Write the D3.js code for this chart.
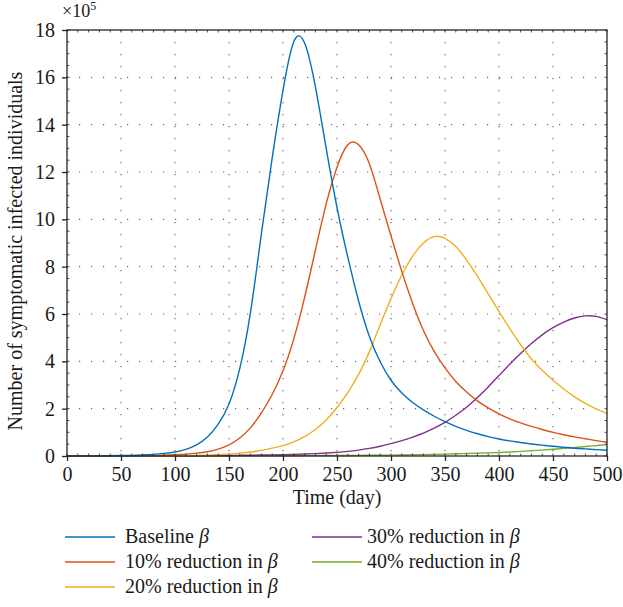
<!DOCTYPE html>
<html>
<head>
<meta charset="utf-8">
<script src="https://cdn.jsdelivr.net/npm/d3@7"></script>
<style>
  html, body { margin: 0; padding: 0; background: #fff; }
  svg text { font-family: "Liberation Serif", "DejaVu Serif", serif; fill: #1a1a1a; }
</style>
</head>
<body>
<svg id="chart" width="623" height="607"></svg>
<script>
// ---- data (values in units of 1e5) ----
const days = d3.range(0, 501, 10);
const seriesNames = ["Baseline", "10% reduction in", "20% reduction in", "30% reduction in", "40% reduction in"];
const baseline = [0,0.002,0.005,0.008,0.012,0.018,0.028,0.045,0.07,0.11,0.17,0.28,0.47,0.8,1.35,2.2,3.7,6.1,9.4,12.6,15.45,17.5,17.45,15.6,13.0,10.5,8.4,6.55,5.05,3.98,3.2,2.66,2.26,1.95,1.68,1.45,1.25,1.08,0.94,0.82,0.72,0.64,0.57,0.51,0.46,0.41,0.37,0.33,0.3,0.27,0.245];
const red10 = [0,0,0.001,0.003,0.005,0.008,0.012,0.018,0.026,0.038,0.055,0.08,0.12,0.18,0.29,0.47,0.76,1.2,1.82,2.6,3.6,4.95,6.7,8.7,10.65,12.2,13.15,13.15,12.35,10.85,9.3,7.8,6.45,5.3,4.42,3.72,3.15,2.7,2.33,2.03,1.78,1.57,1.4,1.25,1.12,1.0,0.9,0.81,0.73,0.65,0.58];
const red20 = [0,0,0,0,0.002,0.003,0.004,0.006,0.008,0.01,0.013,0.018,0.026,0.038,0.055,0.08,0.12,0.17,0.24,0.33,0.44,0.6,0.82,1.12,1.52,2.05,2.68,3.45,4.4,5.55,6.65,7.65,8.45,9.0,9.27,9.2,8.85,8.28,7.6,6.85,6.1,5.38,4.7,4.1,3.62,3.2,2.83,2.5,2.22,1.99,1.8];
const red30 = [0,0,0,0,0,0.002,0.003,0.004,0.005,0.007,0.009,0.011,0.013,0.016,0.019,0.023,0.028,0.033,0.04,0.048,0.057,0.068,0.082,0.1,0.125,0.155,0.195,0.25,0.32,0.41,0.52,0.65,0.8,0.97,1.18,1.42,1.72,2.06,2.47,2.92,3.4,3.88,4.33,4.75,5.12,5.42,5.66,5.83,5.92,5.9,5.76];
const red40 = [0,0,0,0,0,0,0,0,0,0,0.002,0.002,0.003,0.003,0.004,0.005,0.006,0.007,0.008,0.009,0.01,0.012,0.014,0.016,0.018,0.02,0.023,0.026,0.03,0.034,0.039,0.045,0.052,0.06,0.069,0.08,0.092,0.105,0.118,0.133,0.15,0.17,0.195,0.222,0.25,0.285,0.32,0.36,0.4,0.44,0.48];
const seriesValues = [baseline, red10, red20, red30, red40];
const colors = ["#0072BD", "#D95319", "#EDB120", "#7E2F8E", "#77AC30"];
const xTicks = d3.range(0, 501, 50);
const yTicks = d3.range(0, 19, 2);

// ---- layout ----
const svg = d3.select("#chart");
const x = d3.scaleLinear().domain([0, 500]).range([67, 607]);
const y = d3.scaleLinear().domain([0, 18]).range([456, 30]);

// grid
const grid = svg.append("g").attr("stroke", "#666").attr("stroke-width", 1.2)
  .attr("stroke-dasharray", "1.2,10.8");
grid.selectAll("line.v").data(xTicks.slice(1, -1)).join("line")
  .attr("x1", d => x(d)).attr("x2", d => x(d)).attr("y1", y(18)).attr("y2", y(0));
grid.selectAll("line.h").data(yTicks.slice(1, -1)).join("line")
  .attr("y1", d => y(d)).attr("y2", d => y(d)).attr("x1", x(0)).attr("x2", x(500));

// lines
const line = d3.line().x((d, i) => x(days[i])).y(d => y(Math.max(0, d))).curve(d3.curveNatural);
const order = [4, 3, 2, 1, 0];
svg.append("g").selectAll("path").data(order).join("path")
  .attr("d", k => line(seriesValues[k]))
  .attr("fill", "none").attr("stroke", k => colors[k]).attr("stroke-width", 1.4);

// axes frame
const axisColor = "#262626";
const frame = svg.append("g");
frame.append("rect").attr("x", x(0)).attr("y", y(18)).attr("width", x(500) - x(0)).attr("height", y(0) - y(18))
  .attr("fill", "none").attr("stroke", axisColor).attr("stroke-width", 1.3);

// minor ticks (inward)
const xMinor = d3.range(0, 501, 10);
const yMinor = d3.range(0, 18.01, 0.5);
frame.selectAll("line.xm").data(xMinor).join("line")
  .attr("x1", d => x(d)).attr("x2", d => x(d)).attr("y1", y(0)).attr("y2", y(0) - 2.5)
  .attr("stroke", axisColor).attr("stroke-width", 0.8);
frame.selectAll("line.xmt").data(xMinor).join("line")
  .attr("x1", d => x(d)).attr("x2", d => x(d)).attr("y1", y(18)).attr("y2", y(18) + 2.5)
  .attr("stroke", axisColor).attr("stroke-width", 0.8);
frame.selectAll("line.ym").data(yMinor).join("line")
  .attr("y1", d => y(d)).attr("y2", d => y(d)).attr("x1", x(0)).attr("x2", x(0) + 2.5)
  .attr("stroke", axisColor).attr("stroke-width", 0.8);
frame.selectAll("line.ymr").data(yMinor).join("line")
  .attr("y1", d => y(d)).attr("y2", d => y(d)).attr("x1", x(500)).attr("x2", x(500) - 2.5)
  .attr("stroke", axisColor).attr("stroke-width", 0.8);

// axes with labels
const xAxis = svg.append("g").attr("transform", `translate(0,${y(0)})`)
  .call(d3.axisBottom(x).tickValues(xTicks).tickSize(5).tickPadding(6).tickFormat(d3.format("d")));
const yAxis = svg.append("g").attr("transform", `translate(${x(0)},0)`)
  .call(d3.axisLeft(y).tickValues(yTicks).tickSize(5).tickPadding(7).tickFormat(d3.format("d")));
[xAxis, yAxis].forEach(a => {
  a.select(".domain").remove();
  a.selectAll(".tick line").attr("stroke", axisColor).attr("stroke-width", 1.3);
  a.selectAll(".tick text").attr("font-size", 20).attr("font-family", "Liberation Serif, serif").attr("fill", "#1a1a1a");
});

// axis titles
svg.append("text").attr("x", (x(0) + x(500)) / 2).attr("y", 504).attr("text-anchor", "middle")
  .attr("font-size", 20).text("Time (day)");
svg.append("text").attr("transform", `translate(22,${(y(0) + y(18)) / 2 + 8}) rotate(-90)`)
  .attr("text-anchor", "middle").attr("font-size", 20).text("Number of symptomatic infected individuals");

// exponent
const ex = svg.append("text").attr("x", 62).attr("y", 17).attr("font-size", 18);
ex.append("tspan").text("×10");
ex.append("tspan").attr("font-size", 12).attr("dy", -7).text("5");

// legend
const legendPos = [
  {lx: 65, ly: 537, tx: 60}, {lx: 65, ly: 562, tx: 60}, {lx: 65, ly: 587, tx: 60},
  {lx: 312, ly: 537, tx: 55}, {lx: 312, ly: 562, tx: 55}
];
const leg = svg.append("g").selectAll("g").data(seriesNames).join("g")
  .attr("transform", (d, i) => `translate(${legendPos[i].lx},${legendPos[i].ly})`);
leg.append("line").attr("x1", 0).attr("x2", 50).attr("y1", 0).attr("y2", 0)
  .attr("stroke", (d, i) => colors[i]).attr("stroke-width", 1.3);
const lt = leg.append("text").attr("x", (d, i) => legendPos[i].tx).attr("y", 6).attr("font-size", 20);
lt.append("tspan").text(d => d + " ");
lt.append("tspan").attr("font-style", "italic").text("β");
</script>
</body>
</html>
